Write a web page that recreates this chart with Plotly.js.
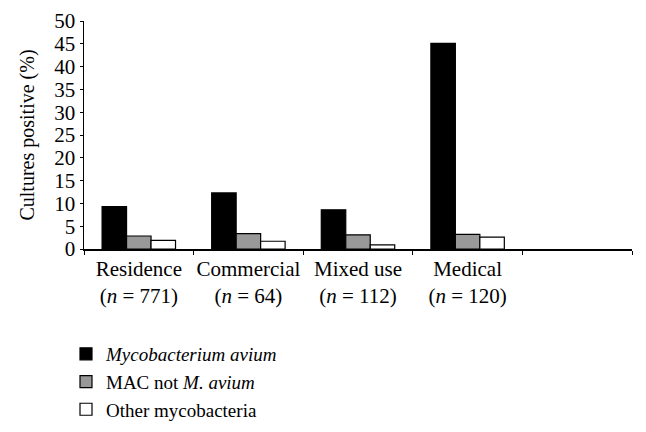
<!DOCTYPE html>
<html>
<head>
<meta charset="utf-8">
<script src="https://cdn.plot.ly/plotly-3.0.1.min.js"></script>
<style>html,body{margin:0;padding:0;background:#fff;}#chart{width:646px;height:432px;}</style>
</head>
<body>
<div id="chart"></div>
<script>
const categories = ["Residence", "Commercial", "Mixed use", "Medical", ""];
const tickLabels = ["Residence<br>(<i>n</i> = 771)", "Commercial<br>(<i>n</i> = 64)", "Mixed use<br>(<i>n</i> = 112)", "Medical<br>(<i>n</i> = 120)", " "];
const seriesNames = ["<i>Mycobacterium avium</i>", "MAC not <i>M. avium</i>", "Other mycobacteria"];
const mAvium = [9.3, 12.3, 8.6, 45.1, null];
const macNotAvium = [2.85, 3.35, 3.1, 3.2, null];
const otherMyco = [1.9, 1.7, 0.9, 2.6, null];
const colors = ["#000000", "#999999", "#ffffff"];

const series = [mAvium, macNotAvium, otherMyco];
const traces = series.map((vals, i) => ({
  type: "bar",
  name: seriesNames[i],
  x: categories,
  y: vals,
  marker: {color: colors[i], line: {color: "#000", width: 1.2}},
  hoverinfo: "none"
}));

const fam = "'Liberation Serif', 'DejaVu Serif', serif";
const font = {family: fam, size: 21, color: "#000"};
const titleFont = {family: fam, size: 20, color: "#000"};
const legFont = {family: fam, size: 19, color: "#000"};

const layout = {
  width: 646, height: 432,
  margin: {l: 84, r: 14, t: 21, b: 183, autoexpand: false},
  paper_bgcolor: "#fff", plot_bgcolor: "#fff",
  font: font,
  barmode: "group",
  bargap: 0.33,
  bargroupgap: 0,
  showlegend: true,
  legend: {
    orientation: "v",
    x: (66 - 84) / 548, y: (249 - 335) / 228, xanchor: "left", yanchor: "top",
    font: legFont, traceorder: "normal", itemwidth: 30,
    bgcolor: "rgba(0,0,0,0)"
  },
  xaxis: {
    type: "category",
    categoryorder: "array", categoryarray: categories,
    tickvals: categories, ticktext: tickLabels,
    tickson: "boundaries", tickangle: 0,
    ticks: "outside", ticklen: 4, tickcolor: "#000", tickwidth: 1,
    showline: true, linecolor: "#000", linewidth: 1.5,
    showgrid: false, zeroline: false,
    tickfont: font,
    automargin: false
  },
  yaxis: {
    range: [0, 50], dtick: 5, tick0: 0,
    ticks: "outside", ticklen: 3, tickcolor: "#000", tickwidth: 1,
    showline: true, linecolor: "#000", linewidth: 1.5,
    showgrid: false, zeroline: false,
    tickfont: font,
    title: {text: "Cultures positive (%)", font: titleFont, standoff: 14},
    automargin: false
  }
};

Plotly.newPlot("chart", traces, layout, {staticPlot: true, displayModeBar: false});
</script>
</body>
</html>
